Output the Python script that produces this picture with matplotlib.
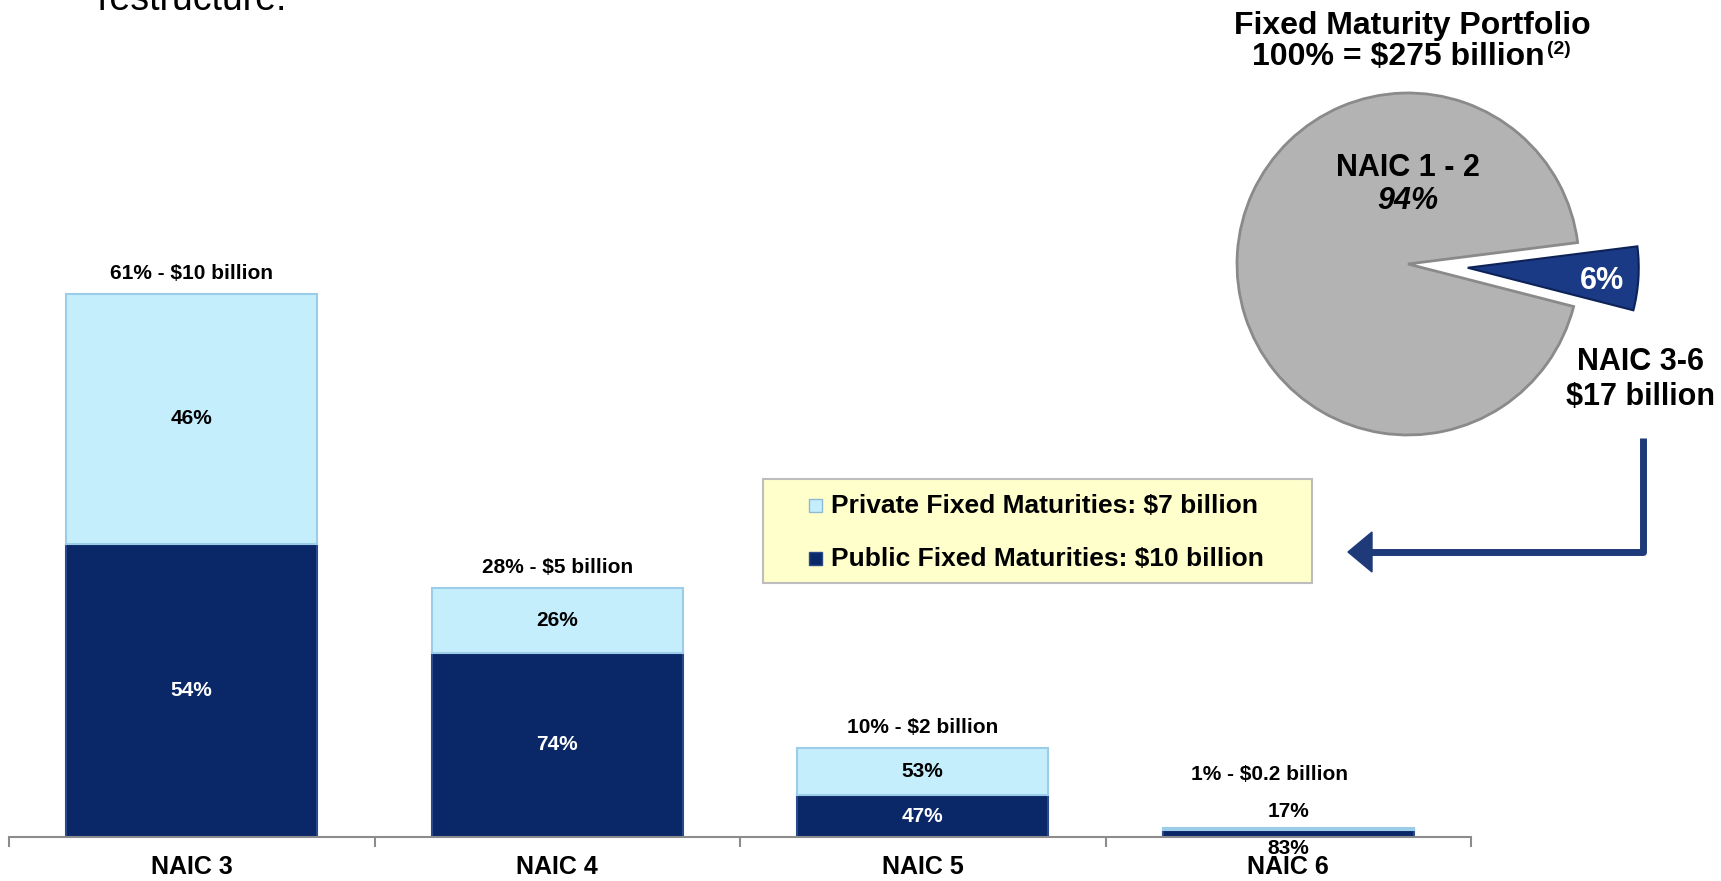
import matplotlib.pyplot as plt
from matplotlib.patches import Rectangle, Polygon

plt.rcParams["font.family"] = ["Liberation Sans", "DejaVu Sans"]
plt.rcParams["font.weight"] = "bold"

# below-investment-grade split by NAIC class
categories = ["NAIC 3", "NAIC 4", "NAIC 5", "NAIC 6"]
total_share = [61, 28, 10, 1]
total_amount = ["$10 billion", "$5 billion", "$2 billion", "$0.2 billion"]
public_pct = [54, 74, 47, 83]
private_pct = [46, 26, 53, 17]
legend_labels = ["Private Fixed Maturities: $7 billion",
                 "Public Fixed Maturities: $10 billion"]

# whole fixed maturity portfolio
pie_share = [6, 94]
pie_names = ["NAIC 3-6", "NAIC 1 - 2"]
below_ig_amount = "$17 billion"
portfolio_total = "$275 billion"

NAVY = "#0a2767"
LIGHT = "#c5eefd"
GRAY = "#b3b3b3"
SLICE = "#1b3a85"
ARROW = "#1f3a78"
AXIS = "#8c8c8c"

W, H = 1721, 881
fig = plt.figure(figsize=(W / 100, H / 100), dpi=100)


def px(x0, y0, x1, y1):
    # pixel box (origin top-left) -> figure fraction rect
    return [x0 / W, 1 - y1 / H, (x1 - x0) / W, (y1 - y0) / H]


### stacked bars ###
ax = fig.add_axes(px(9, 214, 1471, 837))
x = list(range(len(categories)))
public_h = [t * p / 100 for t, p in zip(total_share, public_pct)]
private_h = [t * p / 100 for t, p in zip(total_share, private_pct)]
ax.bar(x, public_h, width=0.687, color=NAVY, edgecolor="#2a4a8e", linewidth=1.5)
ax.bar(x, private_h, bottom=public_h, width=0.687, color=LIGHT,
       edgecolor="#9ccde8", linewidth=1.5)

for i in x:
    t = total_share[i]
    top_label = f"{t}% - {total_amount[i]}"
    if t >= 5:
        ax.text(i, public_h[i] / 2, f"{public_pct[i]}%", ha="center", va="center",
                fontsize=15, color="white")
        ax.text(i, public_h[i] + private_h[i] / 2, f"{private_pct[i]}%", ha="center",
                va="center", fontsize=15, color="black")
        ax.text(i, t + 2.3, top_label, ha="center", va="center", fontsize=15)
    else:
        # bar too thin to hold the split, put it above and below
        ax.text(i, t + 1.9, f"{private_pct[i]}%", ha="center", va="center", fontsize=15)
        ax.text(i, -1.25, f"{public_pct[i]}%", ha="center", va="center", fontsize=15)
        ax.text(i - 0.05, t + 6.0, top_label, ha="center", va="center", fontsize=15)

ax.set_xlim(-0.5, len(categories) - 0.5)
ax.set_ylim(0, 70)
ax.set_xticks(x, categories, fontsize=18)
ax.set_xticks([i - 0.5 for i in range(len(categories) + 1)], minor=True)
ax.tick_params(axis="x", which="major", length=0, pad=13)
ax.tick_params(axis="x", which="minor", length=7, width=1.5, color=AXIS)
ax.set_yticks([])
for side in ["top", "left", "right"]:
    ax.spines[side].set_visible(False)
ax.spines["bottom"].set_color(AXIS)
ax.spines["bottom"].set_linewidth(1.5)
ax.patch.set_visible(False)

### pie ###
pax = fig.add_axes(px(1168, 24, 1648, 504))
wedges, _ = pax.pie(pie_share, colors=[SLICE, GRAY], startangle=-14.4,
                    counterclock=True, explode=[0.35, 0])
wedges[0].set_edgecolor("#0d2257")
wedges[0].set_linewidth(1.5)
wedges[1].set_edgecolor("#8a8a8a")
wedges[1].set_linewidth(2)
lim = 240 / 171
pax.set_xlim(-lim, lim)
pax.set_ylim(-lim, lim)

pax.text(0, 0.56, pie_names[1], ha="center", va="center", fontsize=22)
pax.text(0, 0.37, f"{pie_share[1]}%", ha="center", va="center", fontsize=22,
         style="italic")
pax.text(1.135, -0.1, f"{pie_share[0]}%", ha="center", va="center", fontsize=22,
         color="white")
pax.text(1.357, -0.575, pie_names[0], ha="center", va="center", fontsize=22)
pax.text(1.357, -0.78, below_ig_amount, ha="center", va="center", fontsize=22)

### titles, legend box and arrow in pixel space ###
ov = fig.add_axes([0, 0, 1, 1])
ov.set_xlim(0, W)
ov.set_ylim(H, 0)
ov.axis("off")

ov.text(98, 10, "restructure.", ha="left", va="baseline", fontsize=27,
        fontweight="normal")
ov.text(1412, 26, "Fixed Maturity Portfolio", ha="center", va="center", fontsize=23)
ov.text(1545, 57, f"100% = {portfolio_total}", ha="right", va="center", fontsize=23)
ov.text(1547, 50, "(2)", ha="left", va="center", fontsize=14)

ov.add_patch(Rectangle((763, 479), 549, 104, facecolor="#ffffcc",
                       edgecolor="#bdbdbd", linewidth=1.5))
for row_y, label, col, edge in zip([506, 559], legend_labels, [LIGHT, NAVY],
                                   ["#8fb8d6", "#2a4a8e"]):
    ov.add_patch(Rectangle((809, row_y - 7), 13, 13, facecolor=col, edgecolor=edge,
                           linewidth=1))
    ov.text(831, row_y, label, ha="left", va="center", fontsize=19)

ov.plot([1643, 1643, 1368], [438, 552, 552], color=ARROW, linewidth=5,
        solid_joinstyle="round", solid_capstyle="butt")
ov.add_patch(Polygon([(1348, 552), (1372, 532), (1372, 572)], closed=True,
                     facecolor=ARROW, edgecolor=ARROW))

fig.savefig("out.png", dpi=100)
